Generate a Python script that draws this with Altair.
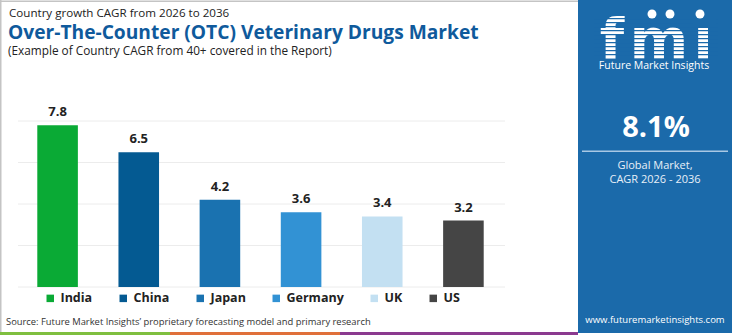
import altair as alt
import pandas as pd

# ---- data ----
countries = ["India", "China", "Japan", "Germany", "UK", "US"]
cagr = [7.8, 6.5, 4.2, 3.6, 3.4, 3.2]
colors = ["#0aaa35", "#045a92", "#1a72b0", "#3292d4", "#c3e0f2", "#454545"]
grid_values = [0, 2, 4, 6, 8]

kicker = "Country growth CAGR from 2026 to 2036"
title = "Over-The-Counter (OTC) Veterinary Drugs Market"
subtitle = "(Example of Country CAGR from 40+ covered in the Report)"
source = "Source: Future Market Insights\u2019 proprietary forecasting model and primary research"
global_cagr = "8.1%"
global_label = ["Global Market,", "CAGR 2026 - 2036"]
logo_letters = ["f", "m", "i"]
brand = "Future Market Insights"
url = "www.futuremarketinsights.com"

FONT = "Open Sans"
PANEL = "#1b6aaa"

df = pd.DataFrame({"country": countries, "value": cagr})
grid_df = pd.DataFrame({"v": grid_values})

xscale = alt.Scale(domain=countries, range=[17, 504], paddingInner=0.5, paddingOuter=0.25)
yscale = alt.Scale(domain=[0, 8], range=[287, 121])


def txt(s, x, y, size, color="#222222", weight="normal", align="left", font=FONT,
        baseline="middle"):
    return alt.Chart(pd.DataFrame({"t": [s]})).mark_text(
        align=align, baseline=baseline, fontSize=size, fontWeight=weight,
        color=color, font=font
    ).encode(text="t:N", x=alt.value(x), y=alt.value(y))


def box(x, x2, y, y2, color):
    return alt.Chart(pd.DataFrame({"a": [0]})).mark_rect(color=color).encode(
        x=alt.value(x), x2=alt.value(x2), y=alt.value(y), y2=alt.value(y2)
    )


# frame
frame_left = box(0, 1.5, 0, 335, "#c4c4c4")
frame_top = box(0, 578, 0.5, 2, "#c4c4c4")

grid = alt.Chart(grid_df).mark_rule(color="#ececec", strokeWidth=1).encode(
    y=alt.Y("v:Q", scale=yscale, axis=None),
    x=alt.value(18), x2=alt.value(505),
)

bars = alt.Chart(df).mark_bar().encode(
    x=alt.X("country:N", scale=xscale, sort=countries, axis=None),
    y=alt.Y("value:Q", scale=yscale, axis=None),
    y2=alt.datum(0),
    color=alt.Color(
        "country:N",
        scale=alt.Scale(domain=countries, range=colors),
        legend=alt.Legend(
            orient="none", legendX=44, legendY=292, direction="horizontal",
            columns=6, symbolType="square", symbolSize=56, symbolStrokeWidth=0,
            labelFontSize=12.5, labelFontWeight="bold", labelColor="#222222",
            labelFont=FONT, columnPadding=24, labelOffset=4, title=None,
            padding=0,
        ),
    ),
)

labels = alt.Chart(df).mark_text(
    baseline="bottom", dy=-6, fontSize=13, fontWeight="bold", color="#222222", font=FONT
).encode(
    x=alt.X("country:N", scale=xscale, sort=countries, axis=None),
    y=alt.Y("value:Q", scale=yscale, axis=None),
    text=alt.Text("value:Q", format=".1f"),
)

# right panel
panel = box(578, 732, 0, 333, PANEL)
logo = [
    txt(letter, x, 58, 56, color="white", weight="bold", align="center",
        font="DejaVu Sans", baseline="alphabetic")
    for letter, x in zip(logo_letters, (612, 659, 703))
]
stripes = [box(594, 718, y, y + 1.3, PANEL) for y in range(18, 58, 4)]
cover_dot = box(693, 716, 8, 24, PANEL)
icons = alt.Chart(pd.DataFrame({"a": [0]})).mark_point(
    filled=True, color="white", size=80, opacity=1
)
icon_layers = [
    icons.encode(x=alt.value(x), y=alt.value(14)) for x in (652, 670, 700)
]

layers = [
    frame_left, frame_top,
    txt(kicker, 9, 14, 11.6),
    txt(title, 8, 33, 19.2, color="#0f5a9c", weight="bold"),
    txt(subtitle, 8, 51, 11.8),
    grid, bars, labels,
    txt(source, 6, 322, 9.4, color="#333333"),
    box(0, 170, 332, 335, "#7fbf3f"),
    box(170, 340, 332, 335, "#e0703a"),
    box(340, 578, 332, 335, "#8b3a8f"),
    panel,
] + logo + stripes + [cover_dot] + icon_layers + [
    txt(brand, 654, 66, 10.5, color="white", align="center"),
    txt(global_cagr, 656, 128, 29, color="white", weight="bold", align="center"),
    box(582, 728, 150.5, 152, "#a9c8e4"),
    txt(global_label[0], 655, 166, 11, color="#e8f0f8", align="center"),
    txt(global_label[1], 655, 180, 11, color="#e8f0f8", align="center"),
    txt(url, 655, 320, 9.5, color="white", align="center"),
]

chart = alt.layer(*layers).properties(
    width=750, height=335, autosize=alt.AutoSizeParams(type="none"), padding=0,
    background="white",
).configure_view(strokeWidth=0)

chart.save("out.html", embed_options={"renderer": "svg", "actions": False})
